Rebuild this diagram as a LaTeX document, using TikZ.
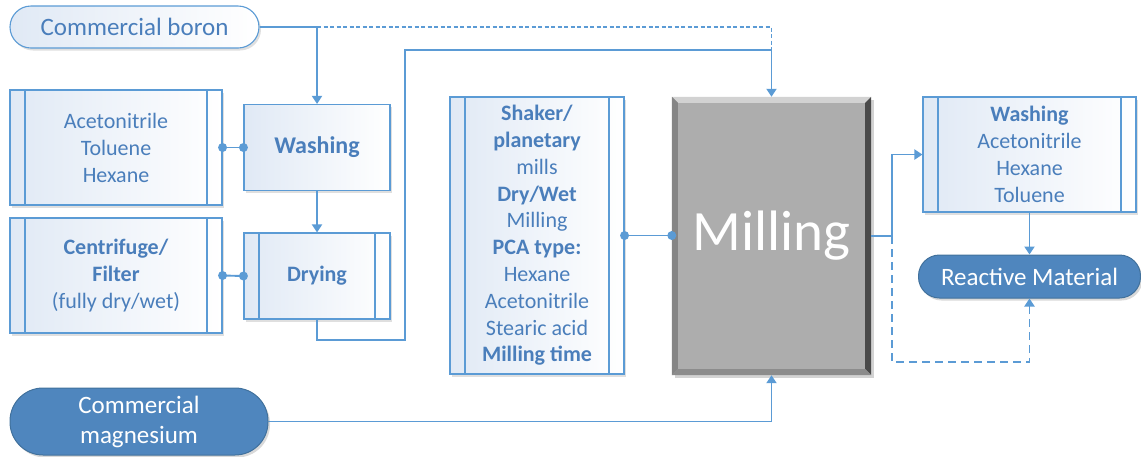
\documentclass[tikz,border=0pt]{standalone}
\usepackage{fontspec}
\setmainfont{Carlito}
\usetikzlibrary{arrows.meta,shadows,calc}
\definecolor{lineblue}{HTML}{5B9BD5}
\definecolor{txtblue}{HTML}{4A7EBB}
\definecolor{darkblue}{HTML}{4F86BE}
\definecolor{darkborder}{HTML}{41719C}
\definecolor{palefill}{HTML}{E0E9F5}
\definecolor{millgray}{HTML}{ADADAD}
\definecolor{milltop}{HTML}{D2D2D2}
\definecolor{millleft}{HTML}{858585}
\definecolor{millright}{HTML}{4A4A4A}
\definecolor{millbot}{HTML}{8C8C8C}
\tikzset{
  conn/.style={draw=lineblue, line width=1.9pt},
  arr/.style={conn, -{Triangle[width=10pt,length=8pt]}},
  dotted conn/.style={conn, dash pattern=on 4pt off 2.5pt},
  dashed conn/.style={conn, dash pattern=on 8pt off 5pt},
  enddot/.style={fill=lineblue},
  pale/.style={draw=lineblue, line width=1.1pt, left color=palefill, right color=white,
    text=txtblue, align=center, inner sep=0pt,
    drop shadow={opacity=0.25, shadow xshift=2pt, shadow yshift=-2.5pt}},
  procbox/.style={pale, path picture={
    \draw[lineblue, line width=1.1pt]
      ([xshift=15pt]path picture bounding box.north west) -- ([xshift=15pt]path picture bounding box.south west)
      ([xshift=-15pt]path picture bounding box.north east) -- ([xshift=-15pt]path picture bounding box.south east);}},
  txt/.style={font=\fontsize{22}{27}\selectfont},
}
\begin{document}
\begin{tikzpicture}[x=1pt,y=-1pt]
\useasboundingbox (0,0) rectangle (1141,456);

% nodes
\node[pale, rounded corners=21pt, minimum width=249pt, minimum height=42pt,
  font=\fontsize{25}{30}\selectfont] (boron) at (134.5,27) {Commercial boron};
\node[procbox, txt, minimum width=212pt, minimum height=115pt] (solv) at (116,147.5)
  {Acetonitrile\\Toluene\\Hexane};
\node[pale, minimum width=146pt, minimum height=86pt, font=\fontsize{24}{29}\selectfont\bfseries] (wash1) at (317,147.5) {Washing};
\node[procbox, txt, minimum width=212pt, minimum height=115pt] (cent) at (116,275.5)
  {\textbf{Centrifuge/}\\\textbf{Filter}\\(fully dry/wet)};
\node[procbox, minimum width=146pt, minimum height=86pt, font=\fontsize{22}{27}\selectfont\bfseries] (dry) at (317,276) {Drying};
\node[procbox, font=\fontsize{22}{26.8}\selectfont, minimum width=174pt, minimum height=277pt] (params) at (537,235.5)
  {\textbf{Shaker/}\\\textbf{planetary}\\mills\\\textbf{Dry/Wet}\\Milling\\\textbf{PCA type:}\\Hexane\\Acetonitrile\\Stearic acid\\\textbf{Milling time}};

% milling block with bevel
\node[fill=millgray, minimum width=199pt, minimum height=278pt, inner sep=0pt,
  drop shadow={opacity=0.35, shadow xshift=3pt, shadow yshift=-3pt}] (mill) at (771.5,236) {};
\fill[milltop] (mill.north west) -- (mill.north east) -- ([shift={(-6,6)}]mill.north east) -- ([shift={(6,6)}]mill.north west) -- cycle;
\fill[millleft] (mill.north west) -- ([shift={(6,6)}]mill.north west) -- ([shift={(6,-6)}]mill.south west) -- (mill.south west) -- cycle;
\fill[millright] (mill.north east) -- ([shift={(-6,6)}]mill.north east) -- ([shift={(-6,-6)}]mill.south east) -- (mill.south east) -- cycle;
\fill[millbot] (mill.south west) -- ([shift={(6,-6)}]mill.south west) -- ([shift={(-6,-6)}]mill.south east) -- (mill.south east) -- cycle;
\node[text=white, font=\fontsize{57}{60}\selectfont] (milltext) at (mill.center) {Milling};

\node[procbox, txt, minimum width=213pt, minimum height=115pt] (wash2) at (1029.5,154.5)
  {\textbf{Washing}\\Acetonitrile\\Hexane\\Toluene};
\node[fill=darkblue, draw=darkborder, line width=1pt, rounded corners=21pt, minimum width=222pt, minimum height=43pt,
  inner sep=0pt, text=white, font=\fontsize{25}{30}\selectfont,
  drop shadow={opacity=0.3, shadow xshift=2pt, shadow yshift=-2.5pt}] (react) at (1029.5,276.5) {Reactive Material};
\node[fill=darkblue, draw=darkborder, line width=1pt, rounded corners=33pt, minimum width=258pt, minimum height=67pt,
  inner sep=0pt, text=white, align=center, font=\fontsize{25}{30}\selectfont,
  drop shadow={opacity=0.3, shadow xshift=2pt, shadow yshift=-2.5pt}] (mag) at (139,421.5) {Commercial\\magnesium};

% coordinates
\coordinate (bj) at (wash1.north |- boron.east);
\coordinate (bk) at (771.5,50);
\coordinate (d1) at (405,340);
\coordinate (d2) at (405,50);
\coordinate (r1) at (892,236);
\coordinate (r2) at (892,362);

% connectors
\draw[arr] (boron.east) -| (wash1.north);
\draw[dotted conn] (bj) -| (bk);
\draw[arr] (wash1.south) -- (dry.north);
\draw[conn] (solv.east) -- (wash1.west);
\draw[conn] (cent.east) -- (dry.west);
\draw[arr] (dry.south) |- (d1) -- (d2) -| (mill.north);
\draw[conn] (params.east) -- (params.east -| mill.west);
\draw[arr] (mag.east) -| (mill.south);
\draw[conn] (mill.east) -- (r1);
\draw[arr] (r1) |- (wash2.west);
\draw[dashed conn, -{Triangle[width=10pt,length=8pt]}] (r1) -- (r2) -| (react.south);
\draw[arr] (wash2.south) -- (react.north);

% connection dots
\fill[enddot] (solv.east) circle (4.5) (wash1.west) circle (4.5)
  (cent.east) circle (4.5) (dry.west) circle (4.5)
  (params.east) circle (4.5) (params.east -| mill.west) circle (4.5);
\end{tikzpicture}
\end{document}
